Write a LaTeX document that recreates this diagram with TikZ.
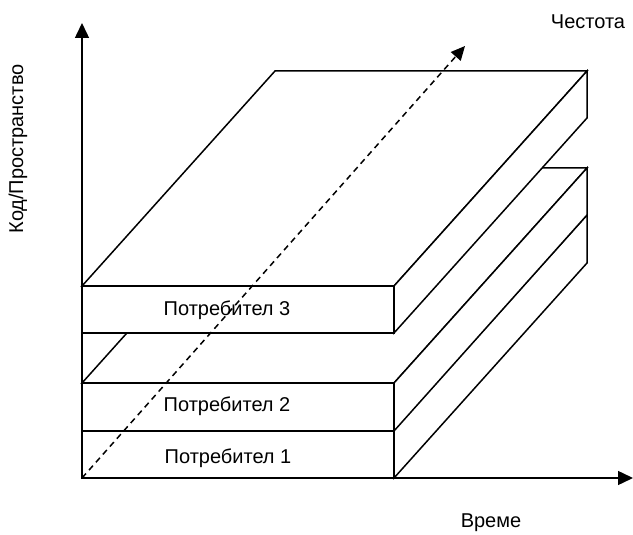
\documentclass[tikz,border=0pt]{standalone}
\usepackage{fontspec}
\setmainfont{Liberation Sans}
\usetikzlibrary{arrows.meta}
\begin{document}
\begin{tikzpicture}[x=1pt,y=-1pt,
  edge/.style={line width=1.5pt,line join=miter},
  face/.style={edge,fill=white},
  lbl/.style={font=\fontsize{20}{24}\selectfont,inner sep=0pt},
  axis/.style={line width=1.5pt,-{Triangle[length=15pt,width=14pt]}},
  diag/.style={line width=1.5pt,dash pattern=on 6pt off 4.5pt,-{Triangle[length=14pt,width=13pt]}}]
\useasboundingbox (0,0) rectangle (633,535);
% axes
\coordinate (O) at (82,478);
\coordinate (Ytip) at (82,23);
\coordinate (Xtip) at (633,478);
\coordinate (Dtip) at (465,46);
% box 1 (bottom)
\draw[face] (394,430) -- (587,215) -- (587,263) -- (394,478) -- cycle;
\draw[face] (82,430) rectangle (394,478);
% box 2
\draw[face] (82,383) -- (275,168) -- (587,168) -- (394,383) -- cycle;
\draw[face] (394,383) -- (587,168) -- (587,215) -- (394,431) -- cycle;
\draw[face] (82,383) rectangle (394,431);
% box 3 (top)
\draw[face] (82,286) -- (275,71) -- (587,71) -- (394,286) -- cycle;
\draw[face] (394,286) -- (587,71) -- (587,118) -- (394,333) -- cycle;
\draw[face] (82,286) rectangle (394,333);
% labels in boxes
\node[lbl] (u3) at (227,310) {Потребител 3};
\node[lbl] (u2) at (227,406) {Потребител 2};
\node[lbl] (u1) at (228,458) {Потребител 1};
% axes on top
\draw[axis] (O) -- (Ytip);
\draw[axis] (O) -- (Xtip);
\draw[diag] (O) -- (Dtip);
% axis labels
\node[lbl] (freq) at (588,22) {Честота};
\node[lbl] (time) at (491,523) {Време};
\node[lbl,rotate=90] (code) at (18,149) {Код/Пространство};
\end{tikzpicture}
\end{document}
